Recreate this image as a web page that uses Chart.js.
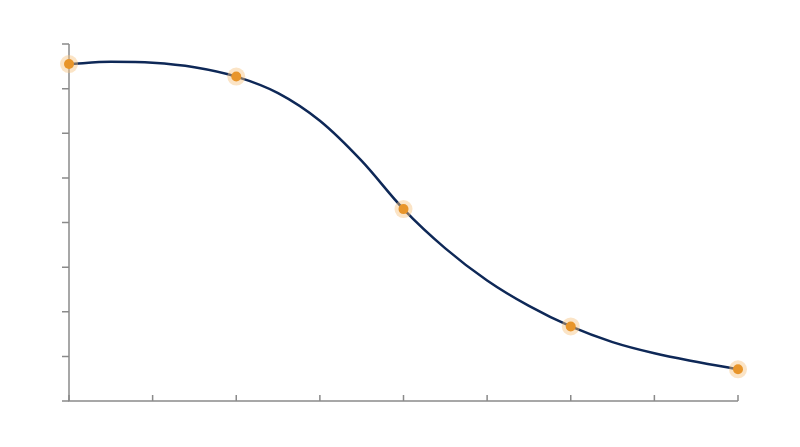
<!DOCTYPE html>
<html>
<head>
<meta charset="utf-8">
<script src="https://cdn.jsdelivr.net/npm/chart.js@4.4.0/dist/chart.umd.min.js"></script>
<style>
  html, body { margin: 0; padding: 0; background: #ffffff; }
  #wrap { width: 800px; height: 447px; }
</style>
</head>
<body>
<div id="wrap"><canvas id="c" width="800" height="447"></canvas></div>
<script>
// Curve readings (x in tick units 0..8, y in tick units 0..8)
const curveX = [0, 0.5, 1, 1.5, 2, 2.5, 3, 3.5, 4, 4.5, 5, 5.5, 6, 6.5, 7, 7.5, 8];
const curveY = [7.55, 7.60, 7.58, 7.48, 7.27, 6.90, 6.28, 5.38, 4.30, 3.42, 2.70, 2.13, 1.67, 1.32, 1.07, 0.88, 0.71];
// Marked observations
const pointX = [0, 2, 4, 6, 8];
const pointY = [7.55, 7.27, 4.30, 1.67, 0.71];
// Axis tick positions
const xTicks = [0, 1, 2, 3, 4, 5, 6, 7, 8];
const yTicks = [0, 1, 2, 3, 4, 5, 6, 7, 8];

const curveData = curveX.map((x, i) => ({ x: x, y: curveY[i] }));
const pointData = pointX.map((x, i) => ({ x: x, y: pointY[i] }));

const axesPlugin = {
  id: 'axesPlugin',
  beforeDatasetsDraw(chart) {
    const ctx = chart.ctx;
    const xs = chart.scales.x, ys = chart.scales.y;
    const x0 = xs.getPixelForValue(xTicks[0]);
    const x1 = xs.getPixelForValue(xTicks[xTicks.length - 1]);
    const yb = ys.getPixelForValue(yTicks[0]);
    const yt = ys.getPixelForValue(yTicks[yTicks.length - 1]);
    ctx.save();
    ctx.strokeStyle = '#8a8a8a';
    ctx.lineWidth = 1.5;
    ctx.beginPath();
    ctx.moveTo(x0, yt);
    ctx.lineTo(x0, yb);
    ctx.lineTo(x1, yb);
    ctx.stroke();
    ctx.beginPath();
    yTicks.forEach(v => {
      const py = ys.getPixelForValue(v);
      ctx.moveTo(x0 - 7, py);
      ctx.lineTo(x0, py);
    });
    xTicks.forEach(v => {
      const px = xs.getPixelForValue(v);
      ctx.moveTo(px, yb);
      ctx.lineTo(px, yb - 6);
    });
    ctx.stroke();
    ctx.restore();
  }
};

new Chart(document.getElementById('c'), {
  type: 'scatter',
  data: {
    datasets: [
      {
        label: 'points',
        data: pointData,
        showLine: false,
        clip: false,
        pointRadius: 5,
        pointHoverRadius: 5,
        pointBackgroundColor: '#e8952a',
        pointBorderWidth: 0,
        pointBorderColor: 'rgba(0,0,0,0)'
      },
      {
        label: 'halo',
        data: pointData,
        showLine: false,
        clip: false,
        pointRadius: 9,
        pointHoverRadius: 9,
        pointBackgroundColor: 'rgba(246,196,128,0.45)',
        pointBorderWidth: 0,
        pointBorderColor: 'rgba(0,0,0,0)'
      },
      {
        label: 'curve',
        data: curveData,
        showLine: true,
        clip: false,
        borderColor: '#0e2857',
        borderWidth: 2.5,
        pointRadius: 0,
        pointHoverRadius: 0,
        cubicInterpolationMode: 'monotone',
        fill: false
      }
    ]
  },
  options: {
    responsive: false,
    animation: false,
    events: [],
    layout: { padding: { left: 69, right: 62, top: 44, bottom: 46 } },
    plugins: { legend: { display: false }, tooltip: { enabled: false } },
    scales: {
      x: { type: 'linear', min: 0, max: 8, display: false },
      y: { type: 'linear', min: 0, max: 8, display: false }
    }
  },
  plugins: [axesPlugin]
});
</script>
</body>
</html>
